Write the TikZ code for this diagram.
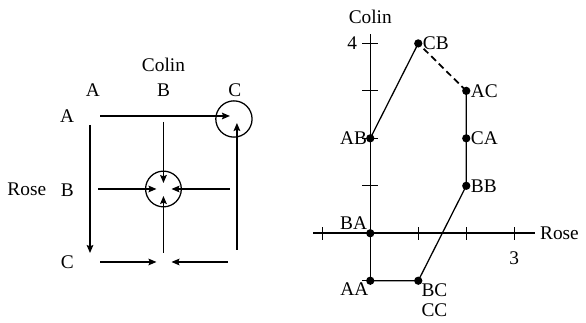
\documentclass[tikz,border=0pt]{standalone}
\usepackage{fontspec}
\setmainfont{Liberation Serif}
\usetikzlibrary{arrows.meta}

\tikzset{
	arr/.style={-{Stealth[length=6pt, width=5pt, inset=1pt]}},
	pt/.style={circle, fill=black, inner sep=0pt, minimum size=6.2pt},
}

\begin{document}
\begin{tikzpicture}[line width=0.95pt, font=\fontsize{14.5}{17}\selectfont]
	\useasboundingbox (0,0) rectangle (439.5pt,242.25pt);

	% left: arrows between cells
	\begin{scope}[shift={(67.5pt,155.25pt)}, x=55.1pt, y=54.75pt]
	\coordinate (AA) at (0,0);
	\coordinate (AB) at (1,0);
	\coordinate (AC) at (2,0);
	\coordinate (BA) at (0,-1);
	\coordinate (BB) at (1,-1);
	\coordinate (BC) at (2,-1);
	\coordinate (CA) at (0,-2);
	\coordinate (CB) at (1,-2);
	\coordinate (CC) at (2,-2);
	\node (colin) at (1,0.7) {Colin};
	\node (cA) at (0.04,0.36) {A};
	\node (cB) at (1,0.36) {B};
	\node (cC) at (1.97,0.36) {C};
	\node (rA) at (-0.31,0) {A};
	\node (rB) at (-0.31,-1.01) {B};
	\node (rC) at (-0.31,-2) {C};
	\node (rose) at (-0.86,-1.01) {Rose};
	\draw (BB) circle (13.4pt);
	\draw ([shift={(-2.25pt,-2.25pt)}]AC) circle (13.6pt);
	\draw[arr, shorten <=7.5pt, shorten >=5.25pt] (AA) -- (AC);
	\draw[arr, shorten <=6.75pt, shorten >=6.75pt] (AA) -- (CA);
	\draw[arr, shorten <=4.5pt, shorten >=4.5pt] (AB) -- (BB);
	\draw[arr, shorten <=6pt, shorten >=5.25pt] (BA) -- (BB);
	\draw[arr, shorten <=5.25pt, shorten >=6pt] (BC) -- (BB);
	\draw[arr, shorten <=6.75pt, shorten >=5.25pt] (CB) -- (BB);
	\draw[arr, shorten <=9pt, shorten >=5.25pt] (CC) -- (AC);
	\draw[arr, shorten <=7.5pt, shorten >=5.25pt] (CA) -- (CB);
	\draw[arr, shorten <=6.75pt, shorten >=6pt] (CC) -- (CB);
	\end{scope}

	% right: payoff region
	\begin{scope}[shift={(277.7pt,67.3pt)}, x=36pt, y=35.6pt]
	\draw[line width=1.15pt] (-1.19,0) -- (3.43,0) node[right] (xlab) {Rose};
	\draw[line width=1.15pt] (0,-1.08) -- (0,4.2);
	\node (ylab) at (0,4.56) {Colin};
	\foreach \i in {-1,1,2,3,4}
		\draw (-0.17,\i) -- (0.17,\i);
	\foreach \i in {-1,1,2,3}
		\draw (\i,-0.14) -- (\i,0.14);
	\node[left] (four) at (-0.17,4) {4};
	\node (three) at (3,-0.52) {3};
	\coordinate (BA) at (0,0);
	\coordinate (AA) at (0,-1);
	\coordinate (BC) at (1,-1);
	\coordinate (BB) at (2,1);
	\coordinate (CA) at (2,2);
	\coordinate (AC) at (2,3);
	\coordinate (CB) at (1,4);
	\coordinate (AB) at (0,2);
	\draw (AA) -- (BC) -- (BB) -- (CA) -- (AC);
	\draw[dash pattern=on 5pt off 3pt, line width=1.3pt] (AC) -- (CB);
	\draw (CB) -- (AB);
	\foreach \p in {BA,AA,BC,BB,CA,AC,CB,AB}
		\node[pt] (d\p) at (\p) {};
	\node[above left, inner sep=2pt] (lBA) at (BA) {BA};
	\node[left, inner sep=2pt] (lAB) at (AB) {AB};
	\node[below left, inner sep=1pt] (lAA) at (AA) {AA};
	\node[below right, inner sep=2pt] (lBC) at (BC) {BC};
	\node[below=-1pt] (lCC) at (lBC.south) {CC};
	\node[right, inner sep=3pt] (lCB) at (CB) {CB};
	\node[right, inner sep=3pt] (lAC) at (AC) {AC};
	\node[right, inner sep=3pt] (lCA) at (CA) {CA};
	\node[right, inner sep=3pt] (lBB) at (BB) {BB};
	\end{scope}
\end{tikzpicture}
\end{document}
